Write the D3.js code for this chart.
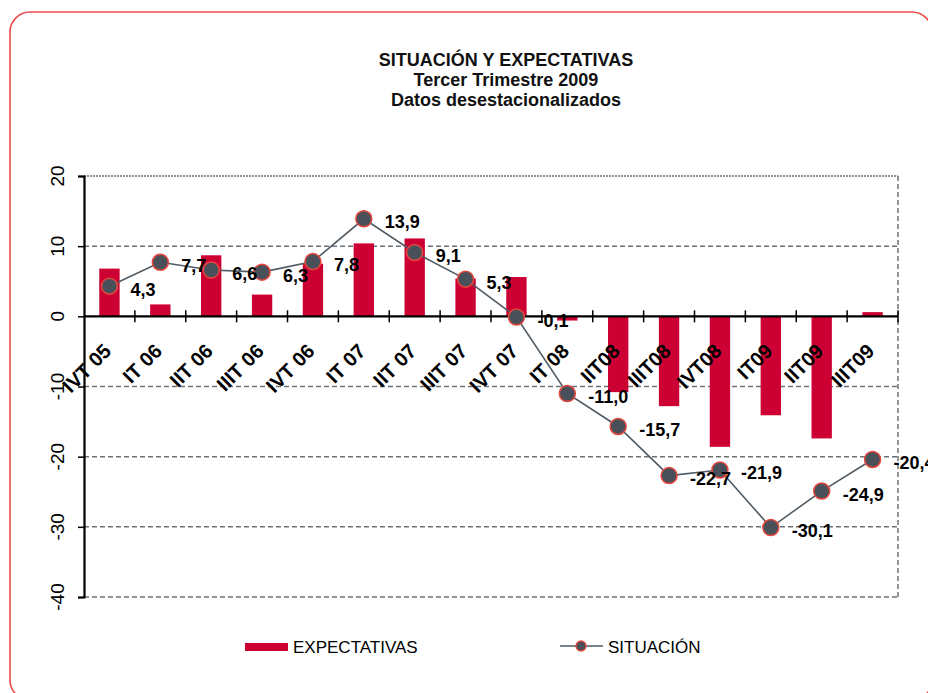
<!DOCTYPE html>
<html>
<head>
<meta charset="utf-8">
<script src="https://cdn.jsdelivr.net/npm/d3@7"></script>
<style>
  body { margin: 0; background: #fff; }
  svg text { font-family: "Liberation Sans", Arial, sans-serif; }
</style>
</head>
<body>
<div id="chart"></div>
<script>
// data
const categories = ["IVT 05", "IT 06", "IIT 06", "IIIT 06", "IVT 06", "IT 07", "IIT 07", "IIIT 07",
                    "IVT 07", "IT 08", "IIT08", "IIIT08", "IVT08", "IT09", "IIT09", "IIIT09"];
const expectativas = [6.8, 1.7, 8.7, 3.1, 7.5, 10.4, 11.1, 5.4, 5.6, -0.6, -10.8, -12.8, -18.6, -14.1, -17.4, 0.6];
const situacion = [4.3, 7.7, 6.6, 6.3, 7.8, 13.9, 9.1, 5.3, -0.1, -11.0, -15.7, -22.7, -21.9, -30.1, -24.9, -20.4];
const yTicks = [-40, -30, -20, -10, 0, 10, 20];
const titleLines = ["SITUACIÓN Y EXPECTATIVAS", "Tercer Trimestre 2009", "Datos desestacionalizados"];

const W = 928, H = 693;
const plotLeft = 84, plotRight = 898, plotTop = 176, plotBottom = 597;

const barColor = "#cc0033";
const lineColor = "#4f5a63";
const markerFill = "#4a5059";
const markerStroke = "#e8473d";
const gridColor = "#6b7178";

const svg = d3.select("#chart").append("svg")
  .attr("width", W)
  .attr("height", H);

// frame
svg.append("rect")
  .attr("x", 10).attr("y", 12)
  .attr("width", 922).attr("height", 688)
  .attr("rx", 20).attr("ry", 20)
  .attr("fill", "none")
  .attr("stroke", "#ee4b4b")
  .attr("stroke-width", 1.6);

// title
svg.append("g").selectAll("text")
  .data(titleLines)
  .join("text")
    .attr("x", 506)
    .attr("y", (d, i) => 66 + i * 20)
    .attr("text-anchor", "middle")
    .attr("font-weight", "bold")
    .attr("font-size", 18)
    .attr("fill", "#111")
    .text(d => d);

// scales
const x = d3.scaleBand()
  .domain(categories)
  .range([plotLeft, plotRight])
  .paddingInner(0.6)
  .paddingOuter(0.3);

const y = d3.scaleLinear()
  .domain([-40, 20])
  .range([plotBottom, plotTop]);

const cx = d => x(d) + x.bandwidth() / 2;

// grid
svg.append("g").selectAll("line")
  .data(yTicks.filter(t => t !== 0 && t !== 20))
  .join("line")
    .attr("x1", plotLeft).attr("x2", plotRight)
    .attr("y1", d => y(d)).attr("y2", d => y(d))
    .attr("stroke", gridColor)
    .attr("stroke-width", 1.5)
    .attr("stroke-dasharray", "5,3");

svg.append("line")
  .attr("x1", plotLeft).attr("x2", plotRight)
  .attr("y1", y(20)).attr("y2", y(20))
  .attr("stroke", gridColor)
  .attr("stroke-width", 1.6)
  .attr("stroke-dasharray", "2,1");

svg.append("line")
  .attr("x1", plotRight).attr("x2", plotRight)
  .attr("y1", y(20)).attr("y2", y(-40))
  .attr("stroke", gridColor)
  .attr("stroke-width", 1.5)
  .attr("stroke-dasharray", "5,3");

// bars
svg.append("g").selectAll("rect")
  .data(expectativas)
  .join("rect")
    .attr("x", (d, i) => x(categories[i]))
    .attr("width", x.bandwidth())
    .attr("y", d => y(Math.max(0, d)))
    .attr("height", d => Math.abs(y(d) - y(0)))
    .attr("fill", barColor);

// y axis
const yAxis = d3.axisLeft(y)
  .tickValues(yTicks)
  .tickSize(6)
  .tickFormat("");

svg.append("g")
  .attr("transform", `translate(${plotLeft},0)`)
  .call(yAxis)
  .call(g => g.select(".domain").attr("stroke", "#000").attr("stroke-width", 2.2))
  .call(g => g.selectAll(".tick line").attr("stroke", "#000").attr("stroke-width", 1.5));

svg.append("g").selectAll("text")
  .data(yTicks)
  .join("text")
    .attr("transform", d => `translate(64,${y(d)}) rotate(-90)`)
    .attr("text-anchor", "middle")
    .attr("font-size", 19)
    .attr("fill", "#000")
    .text(d => d);

// zero axis with category ticks
svg.append("line")
  .attr("x1", plotLeft).attr("x2", plotRight)
  .attr("y1", y(0)).attr("y2", y(0))
  .attr("stroke", "#000")
  .attr("stroke-width", 2.2);

const step = x.step();
svg.append("g").selectAll("line")
  .data(categories)
  .join("line")
    .attr("x1", d => cx(d) + step / 2)
    .attr("x2", d => cx(d) + step / 2)
    .attr("y1", y(0) - 6).attr("y2", y(0) + 6)
    .attr("stroke", "#000")
    .attr("stroke-width", 1.5);

// situacion line
const line = d3.line()
  .x((d, i) => cx(categories[i]))
  .y(d => y(d));

svg.append("path")
  .datum(situacion)
  .attr("d", line)
  .attr("fill", "none")
  .attr("stroke", lineColor)
  .attr("stroke-width", 1.6);

svg.append("g").selectAll("circle")
  .data(situacion)
  .join("circle")
    .attr("cx", (d, i) => cx(categories[i]))
    .attr("cy", d => y(d))
    .attr("r", 8)
    .attr("fill", markerFill)
    .attr("stroke", markerStroke)
    .attr("stroke-width", 1.5);

// x labels
svg.append("g").selectAll("text")
  .data(categories)
  .join("text")
    .attr("transform", d => `translate(${cx(d) + 3},${y(0) + 36}) rotate(-45)`)
    .attr("text-anchor", "end")
    .attr("font-weight", "bold")
    .attr("font-size", 20)
    .attr("fill", "#000")
    .text(d => d);

// data labels
const fmt = v => d3.format(".1f")(v).replace(".", ",").replace("−", "-");
svg.append("g").selectAll("text")
  .data(situacion)
  .join("text")
    .attr("x", (d, i) => cx(categories[i]) + 21)
    .attr("y", d => y(d) + 9.5)
    .attr("font-weight", "bold")
    .attr("font-size", 18)
    .attr("fill", "#000")
    .text(fmt);

// legend
const legend = svg.append("g");
legend.append("rect")
  .attr("x", 245).attr("y", 643)
  .attr("width", 43).attr("height", 8)
  .attr("fill", barColor);
legend.append("text")
  .attr("x", 293).attr("y", 653)
  .attr("font-size", 17)
  .attr("fill", "#000")
  .text("EXPECTATIVAS");

legend.append("line")
  .attr("x1", 560).attr("x2", 603)
  .attr("y1", 646).attr("y2", 646)
  .attr("stroke", lineColor)
  .attr("stroke-width", 1.6);
legend.append("circle")
  .attr("cx", 581).attr("cy", 646)
  .attr("r", 5)
  .attr("fill", markerFill)
  .attr("stroke", markerStroke)
  .attr("stroke-width", 1.3);
legend.append("text")
  .attr("x", 608).attr("y", 653)
  .attr("font-size", 17)
  .attr("fill", "#000")
  .text("SITUACIÓN");
</script>
</body>
</html>
